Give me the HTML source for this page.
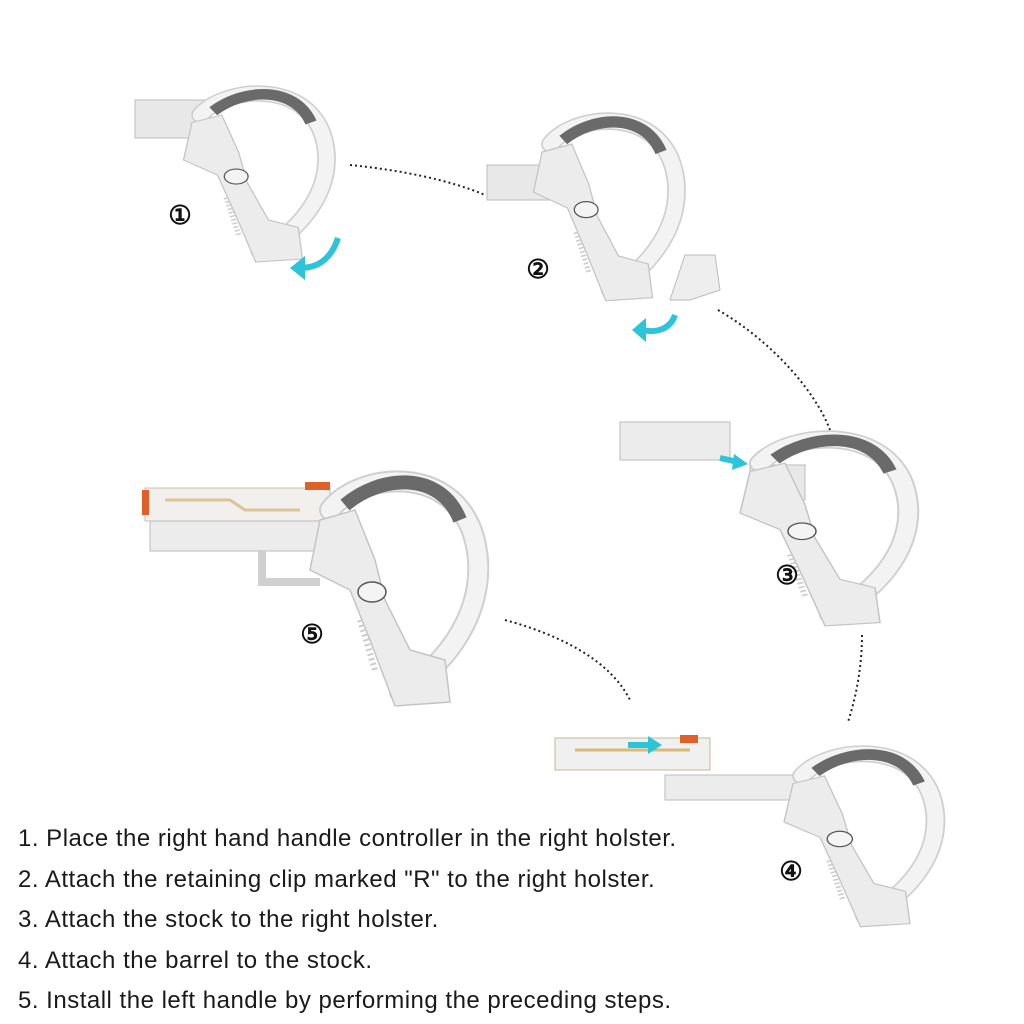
<!DOCTYPE html>
<html><head><meta charset="utf-8"><style>
html,body{margin:0;padding:0;background:#fff;}
.wrap{position:relative;width:1024px;height:1024px;overflow:hidden;}
.t{position:absolute;left:18px;font-family:"Liberation Sans",sans-serif;font-size:24px;letter-spacing:0.5px;color:#1a1a1a;white-space:nowrap;}
</style></head><body><div class="wrap">
<svg width="1024" height="1024" viewBox="0 0 1024 1024" style="position:absolute;left:0;top:0">
<defs>
<g id="ctrl">
<path d="M30,40 C60,0 170,-10 178,90 C182,150 140,200 100,222" fill="none" stroke="#cfcfcf" stroke-width="22" stroke-linecap="round"/>
<path d="M30,40 C60,0 170,-10 178,90 C182,150 140,200 100,222" fill="none" stroke="#f3f3f3" stroke-width="18" stroke-linecap="round"/>
<path d="M45,35 C80,5 140,0 160,50" fill="none" stroke="#6a6a6a" stroke-width="14"/>
<path d="M20,50 L55,40 L75,90 L85,130 L110,180 L145,190 L150,232 L95,236 L70,170 L50,120 L10,100 Z" fill="#ececec" stroke="#c4c4c4" stroke-width="1.5"/>
<ellipse cx="72" cy="122" rx="14" ry="10" fill="#f4f4f4" stroke="#555" stroke-width="1.5"/>
<path d="M60,150 L75,200" stroke="#ccc" stroke-width="6" stroke-dasharray="2 3"/>
</g>
</defs>
<g fill="none" stroke="#222" stroke-width="2" stroke-dasharray="2 3">
<path d="M350,165 C400,170 450,180 485,195"/>
<path d="M718,310 C770,340 815,390 830,430"/>
<path d="M862,635 C862,670 855,700 848,722"/>
<path d="M505,620 C560,635 610,660 630,700"/>
</g>
<rect x="135" y="100" width="70" height="38" fill="#e8e8e8" stroke="#bbb"/>
<use href="#ctrl" transform="translate(175,85) scale(0.85,0.75)"/>
<rect x="487" y="165" width="75" height="35" fill="#e8e8e8" stroke="#bbb"/>
<use href="#ctrl" transform="translate(525,112) scale(0.85,0.8)"/>
<path d="M685,255 L715,255 L720,290 L690,300 L670,300 Z" fill="#eee" stroke="#bbb"/>
<rect x="620" y="422" width="110" height="38" fill="#ececec" stroke="#bbb"/>
<rect x="750" y="465" width="55" height="35" fill="#e8e8e8" stroke="#bbb"/>
<use href="#ctrl" transform="translate(730,430) scale(1,0.83)"/>
<rect x="555" y="738" width="155" height="32" fill="#f0f0f0" stroke="#c8b890"/>
<path d="M575,750 L690,750" stroke="#d9b97a" stroke-width="3"/>
<rect x="680" y="735" width="18" height="8" fill="#e0602a"/>
<rect x="665" y="775" width="140" height="25" fill="#ececec" stroke="#bbb"/>
<use href="#ctrl" transform="translate(775,745) scale(0.9,0.77)"/>
<rect x="145" y="488" width="185" height="33" fill="#f2f0ec" stroke="#c8c0b0"/>
<path d="M165,500 L230,500 L245,510 L300,510" fill="none" stroke="#dcc39a" stroke-width="3"/>
<rect x="142" y="490" width="7" height="25" fill="#e0602a"/>
<rect x="305" y="482" width="25" height="8" fill="#e0602a"/>
<rect x="150" y="521" width="170" height="30" fill="#ececec" stroke="#bbb"/>
<path d="M262,550 L262,582 L320,582" fill="none" stroke="#d0d0d0" stroke-width="8"/>
<use href="#ctrl" transform="translate(300,470)"/>
<g fill="none" stroke="#2cc4d8" stroke-width="6">
<path d="M338,238 C330,262 315,268 300,268"/>
<path d="M675,315 C670,330 655,333 642,330"/>
<path d="M720,458 L738,462"/>
<path d="M628,745 L650,745"/>
</g>
<g fill="#2cc4d8">
<polygon points="290,268 305,256 305,280"/>
<polygon points="632,330 646,318 646,342"/>
<polygon points="748,464 734,454 732,470"/>
<polygon points="662,745 648,736 648,754"/>
</g>
<g font-family="Liberation Sans,sans-serif" font-size="26" font-weight="bold" text-anchor="middle" fill="#111">
<text x="180" y="224">①</text>
<text x="538" y="278">②</text>
<text x="787" y="584">③</text>
<text x="791" y="880">④</text>
<text x="312" y="643">⑤</text>
</g>
</svg>
<div class="t" style="top:825px">1. Place the right hand handle controller in the right holster.</div>
<div class="t" style="top:866px">2. Attach the retaining clip marked "R" to the right holster.</div>
<div class="t" style="top:906px">3. Attach the stock to the right holster.</div>
<div class="t" style="top:947px">4. Attach the barrel to the stock.</div>
<div class="t" style="top:987px">5. Install the left handle by performing the preceding steps.</div>
</div></body></html>
